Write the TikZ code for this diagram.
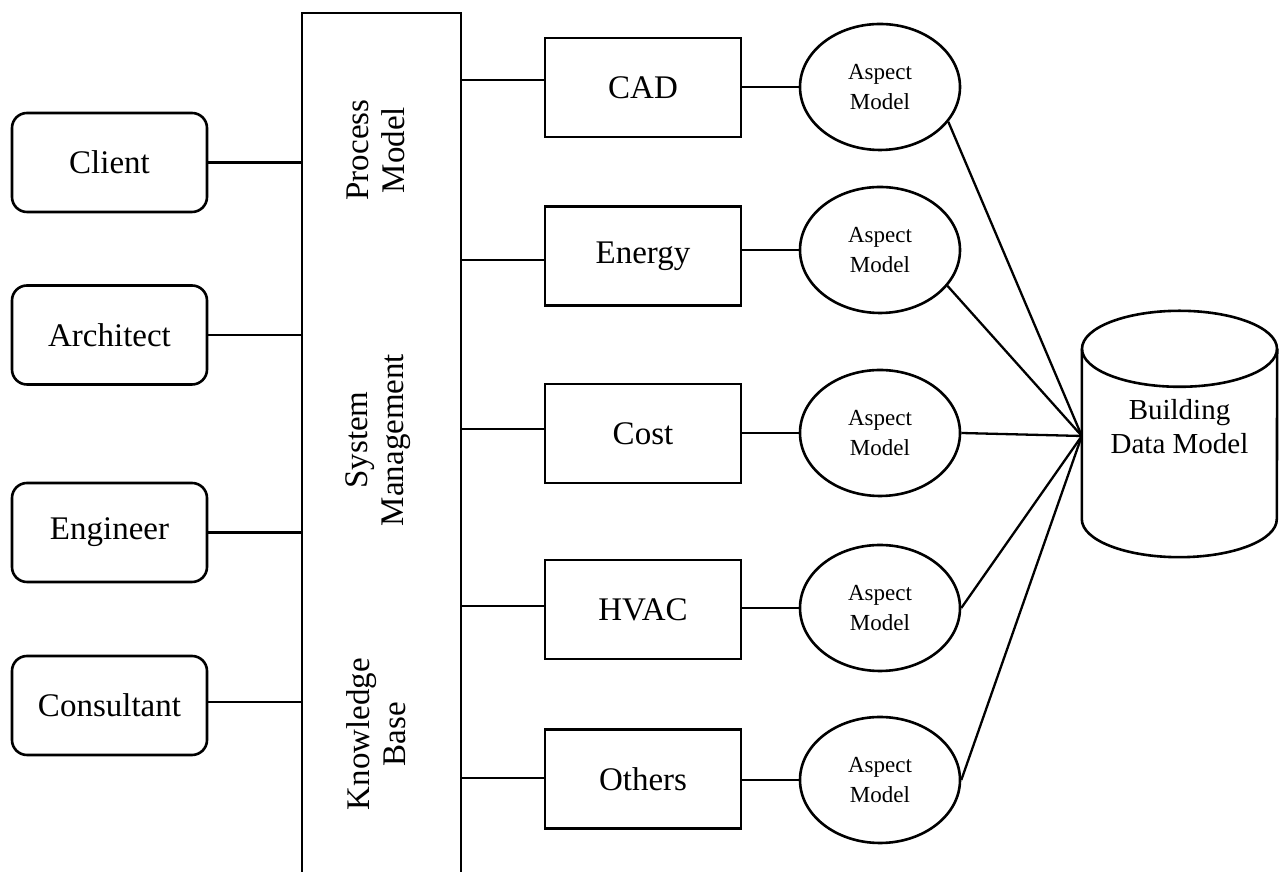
\documentclass[tikz,border=0pt]{standalone}
\usepackage{fontspec}
\setmainfont{Liberation Serif}
\usetikzlibrary{shapes.geometric}
\begin{document}
\begin{tikzpicture}[x=1pt,y=1pt,
  actor/.style={draw, line width=2.6pt, rounded corners=15pt, minimum width=195pt,
    minimum height=99pt, inner sep=0pt, font=\fontsize{33}{38}\selectfont},
  tool/.style={draw, line width=2.6pt, minimum width=196pt, minimum height=99pt,
    inner sep=0pt, font=\fontsize{33}{38}\selectfont},
  aspect/.style={draw, ellipse, line width=2.6pt, minimum width=160pt,
    minimum height=126pt, inner sep=0pt, align=center, font=\fontsize{23}{30}\selectfont},
  layer/.style={rotate=90, align=center, inner sep=0pt, font=\fontsize{33}{36}\selectfont},
  shapeline/.style={line width=2.6pt},
  link/.style={line width=2.3pt},
  thinlink/.style={line width=1.4pt}
]
\useasboundingbox (0,0) rectangle (1286,872);

% central system column (open at the bottom edge)
\node[draw, line width=2.6pt, minimum width=159pt, minimum height=889pt, inner sep=0pt]
  (sys) at (381.5,414.5) {};
\node[layer] (pm) at (376,722) {Process\\Model};
\node[layer] (sm) at (378,432) {System\\Management};
\node[layer] (kb) at (376,138) {Knowledge\\Base};

% participants
\node[actor] (client)     at (109.5,709.5) {Client};
\node[actor] (architect)  at (109.5,537)   {Architect};
\node[actor] (engineer)   at (109.5,339.5) {Engineer};
\node[actor] (consultant) at (109.5,166.5) {Consultant};

\draw[link] (client.east) -- (client.east -| sys.west);
\draw[link] (architect.east) -- (architect.east -| sys.west);
\draw[link] (engineer.east) -- (engineer.east -| sys.west);
\coordinate (consR) at ([yshift=3.5pt]consultant.east);
\draw[link] (consR) -- (consR -| sys.west);

% applications
\node[tool] (cad)    at (643,784.5) {CAD};
\node[tool] (energy) at (643,616)   {Energy};
\node[tool] (cost)   at (643,438.5) {Cost};
\node[tool] (hvac)   at (643,262.5) {HVAC};
\node[tool] (others) at (643,93)    {Others};

\coordinate (cadL)    at ([yshift=7.5pt]cad.west);
\coordinate (energyL) at ([yshift=-4pt]energy.west);
\coordinate (costL)   at ([yshift=4.5pt]cost.west);
\coordinate (hvacL)   at ([yshift=3.5pt]hvac.west);
\coordinate (othersL) at ([yshift=1pt]others.west);
\draw[link] (cadL -| sys.east) -- (cadL);
\draw[link] (energyL -| sys.east) -- (energyL);
\draw[link] (costL -| sys.east) -- (costL);
\draw[link] (hvacL -| sys.east) -- (hvacL);
\draw[link] (othersL -| sys.east) -- (othersL);

% aspect models
\node[aspect] (acad)    at (880,785) {Aspect\\Model};
\node[aspect] (aenergy) at (880,622) {Aspect\\Model};
\node[aspect] (acost)   at (880,439) {Aspect\\Model};
\node[aspect] (ahvac)   at (880,264) {Aspect\\Model};
\node[aspect] (aothers) at (880,92)  {Aspect\\Model};

\draw[link] (acad.west -| cad.east) -- (acad.west);
\draw[link] (aenergy.west -| energy.east) -- (aenergy.west);
\draw[thinlink] (acost.west -| cost.east) -- (acost.west);
\draw[link] (ahvac.west -| hvac.east) -- (ahvac.west);
\draw[link] (aothers.west -| others.east) -- (aothers.west);

% building data model store
\node[minimum width=195pt, minimum height=170pt, inner sep=0pt] (db) at (1179.5,438) {};
\draw[shapeline] (db.north) ellipse[x radius=97.5pt, y radius=38pt];
\draw[shapeline] (db.north west) -- (db.south west)
  arc[start angle=180, end angle=360, x radius=97.5pt, y radius=38pt] -- (db.north east);
\node[font=\fontsize{29}{34}\selectfont, align=center, inner sep=0pt] (dbtext)
  at ([yshift=7pt]db.center) {Building\\Data Model};
\coordinate (hub) at ([yshift=-2pt]db.west);

\draw[link] (acad.-27) -- (hub);
\draw[link] (aenergy.-28) -- (hub);
\draw[link] (acost.east) -- (hub);
\draw[link] (ahvac.east) -- (hub);
\draw[link] (aothers.east) -- (hub);
\end{tikzpicture}
\end{document}
